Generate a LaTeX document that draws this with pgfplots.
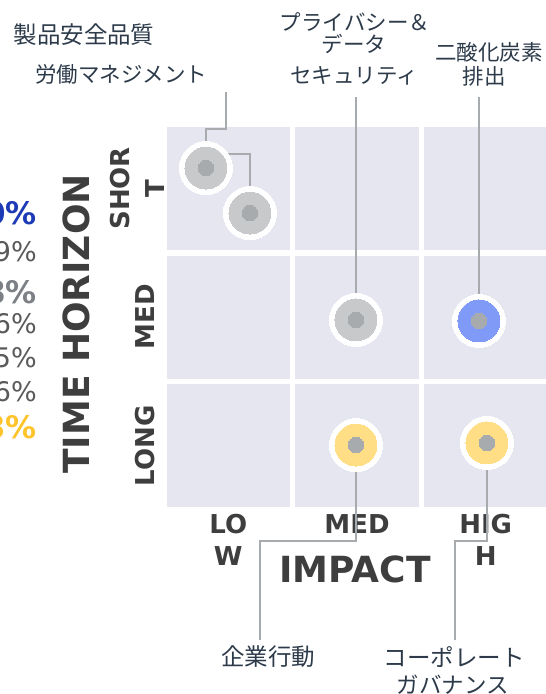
\documentclass[border=0pt]{standalone}
\usepackage{pgfplots}
\pgfplotsset{compat=1.18}
\usepackage{fontspec}
\setmainfont{DejaVu Sans}
\newfontfamily\cjk{Noto Sans CJK JP}
\definecolor{cellc}{HTML}{E6E6F0}
\definecolor{greyb}{HTML}{C8C9CB}
\definecolor{blueb}{HTML}{7F9AF7}
\definecolor{yelb}{HTML}{FFDE85}
\definecolor{dotc}{HTML}{A8ABAE}
\definecolor{leadc}{HTML}{A8ABAE}
\definecolor{labc}{HTML}{3E3E3E}
\definecolor{cjkc}{HTML}{2C3A4A}
\definecolor{pblue}{HTML}{1E3BB6}
\definecolor{pgreyb}{HTML}{7C8085}
\definecolor{pgrey}{HTML}{5A5A5A}
\definecolor{pyel}{HTML}{FFC32B}
\newcommand\tickfont{\fontsize{26}{32}\selectfont\bfseries}
\newcommand\axlabfont{\fontsize{36}{40}\selectfont\bfseries}
\newcommand\cjkfs[1]{\cjk\fontsize{#1}{26}\selectfont}
\tikzset{lead/.style={draw=leadc, line width=2.6pt}}
\begin{document}
\begin{tikzpicture}
\useasboundingbox (0,0) rectangle (546pt,-694pt);
\clip (0,0) rectangle (546pt,-694pt);
\begin{axis}[
 at={(164pt,-510pt)}, anchor=south west,
 width=386pt, height=386pt, scale only axis,
 xmin=-0.5, xmax=2.5, ymin=-0.5, ymax=2.5,
 clip=false,
 axis line style={draw=none},
 major tick length=0pt, tick style={draw=none},
 xtick={0,1,2}, xticklabels={{LO\\W},{MED},{HIG\\H}},
 xticklabel style={font=\tickfont, align=center, anchor=north, inner sep=0pt, text=labc},
 xticklabel shift=4pt,
 ytick={0,1}, yticklabels={LONG,MED},
 yticklabel style={font=\tickfont, rotate=90, anchor=south, inner sep=0pt, text=labc},
 yticklabel shift=9pt,
 extra y ticks={2}, extra y tick labels={{SHOR\\[3pt]T}},
 extra y tick style={yticklabel style={align=center}, yticklabel shift=-1pt},
 xlabel={IMPACT}, ylabel={TIME HORIZON},
 xlabel style={at={(axis description cs:0.495,-0.153)}, anchor=center, font=\axlabfont, text=labc},
 ylabel style={at={(axis description cs:-0.228,0.482)}, anchor=center, font=\axlabfont, text=labc},
]
% cells
\fill[cellc] (axis cs:-0.478,-0.478) rectangle (axis cs:0.478,0.478);
\fill[cellc] (axis cs:0.522,-0.478) rectangle (axis cs:1.478,0.478);
\fill[cellc] (axis cs:1.522,-0.478) rectangle (axis cs:2.478,0.478);
\fill[cellc] (axis cs:-0.478,0.522) rectangle (axis cs:0.478,1.478);
\fill[cellc] (axis cs:0.522,0.522) rectangle (axis cs:1.478,1.478);
\fill[cellc] (axis cs:1.522,0.522) rectangle (axis cs:2.478,1.478);
\fill[cellc] (axis cs:-0.478,1.522) rectangle (axis cs:0.478,2.478);
\fill[cellc] (axis cs:0.522,1.522) rectangle (axis cs:1.478,2.478);
\fill[cellc] (axis cs:1.522,1.522) rectangle (axis cs:2.478,2.478);
% white rings
\addplot[white, only marks, mark=*, mark size=26.5pt, mark options={line width=0pt}] coordinates {
 (-0.174,2.158) (0.168,1.808) (0.992,0.977) (1.948,0.969) (0.992,0.005) (2.010,0.021)};
% coloured bubbles
\addplot[greyb, only marks, mark=*, mark size=21pt, mark options={line width=0pt}] coordinates {
 (-0.174,2.158) (0.168,1.808) (0.992,0.977)};
\addplot[blueb, only marks, mark=*, mark size=21pt, mark options={line width=0pt}] coordinates {
 (1.948,0.969)};
\addplot[yelb, only marks, mark=*, mark size=21pt, mark options={line width=0pt}] coordinates {
 (0.992,0.005) (2.010,0.021)};
% leader lines
\draw[lead] (axis cs:-0.174,2.158) -- (axis cs:-0.174,2.461) -- (axis cs:-0.018,2.461) -- (axis cs:-0.018,2.749);
\draw[lead] (axis cs:0.168,1.808) -- (axis cs:0.168,2.267) -- (axis cs:-0.018,2.267);
\draw[lead] (axis cs:0.992,0.977) -- (axis cs:0.992,2.710);
\draw[lead] (axis cs:1.948,0.969) -- (axis cs:1.948,2.710);
\draw[lead] (axis cs:0.992,0.005) -- (axis cs:0.992,-0.741) -- (axis cs:0.246,-0.741) -- (axis cs:0.246,-1.510);
\draw[lead] (axis cs:2.010,0.021) -- (axis cs:2.010,-0.741) -- (axis cs:1.762,-0.741) -- (axis cs:1.762,-1.510);
% centre dots
\addplot[dotc, only marks, mark=*, mark size=7.8pt, mark options={line width=0pt}] coordinates {
 (-0.174,2.158) (0.168,1.808) (0.992,0.977) (1.948,0.969) (0.992,0.005) (2.010,0.021)};
\end{axis}
% annotation labels
\begin{scope}[every node/.style={inner sep=0pt, text=cjkc}]
\node[font=\cjkfs{23.5}] at (84pt,-35pt) {製品安全品質};
\node[font=\cjkfs{21.5}] at (121pt,-74pt) {労働マネジメント};
\node[font=\cjkfs{21.5}] at (355pt,-22pt) {プライバシー＆};
\node[font=\cjkfs{21.5}] at (354pt,-44pt) {データ};
\node[font=\cjkfs{21.5}] at (354pt,-76pt) {セキュリティ};
\node[font=\cjkfs{21.5}] at (489pt,-52pt) {二酸化炭素};
\node[font=\cjkfs{21.5}] at (484pt,-76pt) {排出};
\node[font=\cjkfs{23.5}] at (268pt,-657pt) {企業行動};
\node[font=\cjkfs{23.5}] at (454pt,-657pt) {コーポレート};
\node[font=\cjkfs{22.5}] at (453pt,-685pt) {ガバナンス};
\end{scope}
% partially visible percentage legend on the left
\begin{scope}[every node/.style={inner sep=0pt, anchor=east}]
\node[text=pblue, font=\fontsize{31}{31}\selectfont\bfseries] at (37pt,-213pt) {10\%};
\node[text=pgrey, font=\fontsize{27}{27}\selectfont] at (37pt,-252pt) {9\%};
\node[text=pgreyb, font=\fontsize{31}{31}\selectfont\bfseries] at (37pt,-292pt) {8\%};
\node[text=pgrey, font=\fontsize{27}{27}\selectfont] at (37pt,-324pt) {6\%};
\node[text=pgrey, font=\fontsize{27}{27}\selectfont] at (37pt,-358pt) {5\%};
\node[text=pgrey, font=\fontsize{27}{27}\selectfont] at (37pt,-392pt) {6\%};
\node[text=pyel, font=\fontsize{31}{31}\selectfont\bfseries] at (37pt,-427pt) {3\%};
\end{scope}
\end{tikzpicture}
\end{document}
